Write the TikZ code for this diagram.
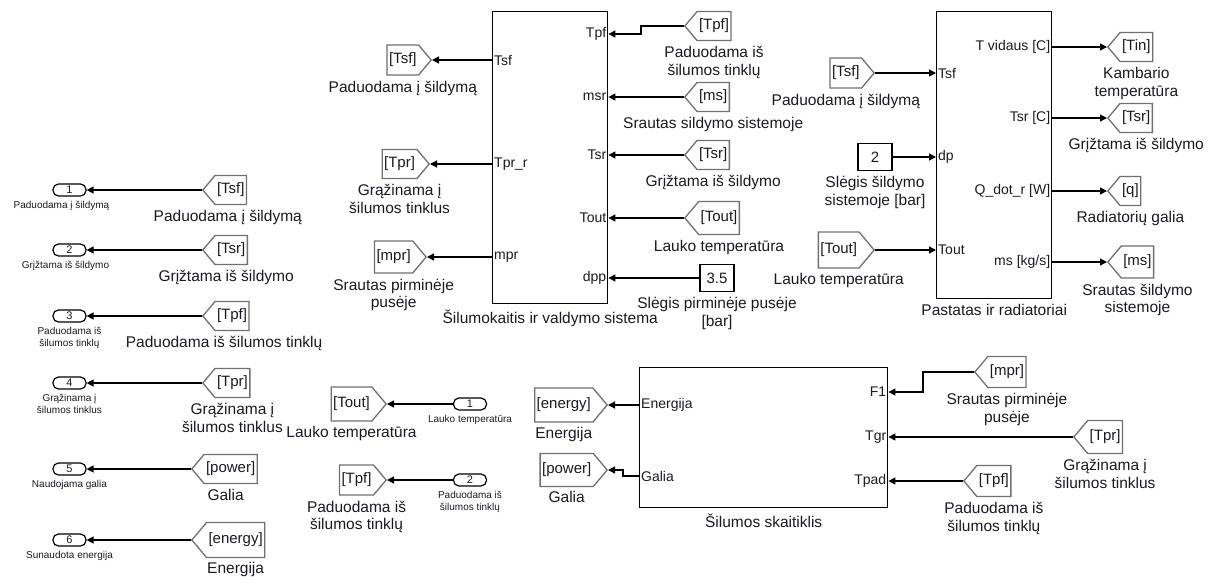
\documentclass[tikz,border=0pt]{standalone}
\usepackage{fontspec}
\setmainfont{Liberation Sans}
\usetikzlibrary{arrows.meta, positioning, shapes.symbols}
\definecolor{ink}{HTML}{1A1A24}
\definecolor{tagc}{HTML}{707070}

\begin{document}
\begin{tikzpicture}[x=1pt, y=-1pt,
    every node/.style={text=ink},
    lbl/.style={font=\fontsize{15.5}{17.5}\selectfont, align=center, inner sep=1pt},
    small/.style={font=\fontsize{10}{12}\selectfont, align=center, inner sep=1pt},
    subsys/.style={draw=black, line width=1.4pt, anchor=north west},
    portw/.style={font=\fontsize{14}{16}\selectfont, anchor=west, inner sep=2pt},
    porte/.style={font=\fontsize{14}{16}\selectfont, anchor=east, inner sep=2pt},
    tagw/.style={shape=signal, signal to=west, signal pointer angle=100, draw=tagc,
        line width=1.3pt, font=\fontsize{15}{17}\selectfont, minimum height=29pt,
        inner xsep=2pt, anchor=west},
    tage/.style={shape=signal, signal to=east, signal pointer angle=100, draw=tagc,
        line width=1.3pt, font=\fontsize{15}{17}\selectfont, minimum height=29pt,
        inner xsep=2pt, anchor=east},
    constbox/.style={draw=black, line width=1.3pt, minimum width=34pt, minimum height=27pt,
        font=\fontsize{15}{17}\selectfont},
    ioport/.style={draw=black, line width=1.2pt, rounded corners=5.5pt, minimum width=33pt,
        minimum height=12pt, inner sep=0pt, font=\fontsize{11}{12}\selectfont},
    sig/.style={-{Triangle[length=7pt, width=7pt]}, line width=1.3pt, black}
]

% ---------------- canvas, white ----------------
\fill[white] (0,0) rectangle (1214,582);
\useasboundingbox (0,0) rectangle (1214,582);

% ================= left column: outports fed by tags =================
\node[ioport] (o1) at (69.5,190) {1};
\node[small, below=3pt of o1, xshift=-8pt] {Paduodama į šildymą};
\node[tagw] (f1) at (202,190) {[Tsf]};
\node[lbl, below=4pt of f1, xshift=-3pt] {Paduodama į šildymą};
\draw[sig] (f1.west) -- (o1.east);

\node[ioport] (o2) at (69.5,250) {2};
\node[small, below=3pt of o2, xshift=-4pt] {Grįžtama iš šildymo};
\node[tagw] (f2) at (202,250) {[Tsr]};
\node[lbl, below=4pt of f2, xshift=-5pt] {Grįžtama iš šildymo};
\draw[sig] (f2.west) -- (o2.east);

\node[ioport] (o3) at (69.5,316) {3};
\node[small, below=3pt of o3] {Paduodama iš\\šilumos tinklų};
\node[tagw] (f3) at (202,316) {[Tpf]};
\node[lbl, below=4pt of f3, xshift=-8pt] {Paduodama iš šilumos tinklų};
\draw[sig] (f3.west) -- (o3.east);

\node[ioport] (o4) at (69.5,383) {4};
\node[small, below=3pt of o4] {Grąžinama į\\šilumos tinklus};
\node[tagw] (f4) at (202,383) {[Tpr]};
\node[lbl, below=4pt of f4] {Grąžinama į\\šilumos tinklus};
\draw[sig] (f4.west) -- (o4.east);

\node[ioport] (o5) at (69.5,469) {5};
\node[small, below=3pt of o5] {Naudojama galia};
\node[tagw] (f5) at (191,469) {[power]};
\node[lbl, below=4pt of f5, xshift=-5pt] {Galia};
\draw[sig] (f5.west) -- (o5.east);

\node[ioport] (o6) at (69.5,540) {6};
\node[small, below=3pt of o6] {Sunaudota energija};
\node[tagw, minimum height=35pt] (f6) at (191,540) {[energy]};
\node[lbl, below=3pt of f6] {Energija};
\draw[sig] (f6.west) -- (o6.east);

% ================= heat exchanger and control =================
\node[subsys, minimum width=115pt, minimum height=292pt] (hx) at (492,11) {};
\node[lbl, below=4pt of hx] {Šilumokaitis ir valdymo sistema};

\node[portw] (hxTsf) at (hx.west |- 0,60) {Tsf};
\node[portw] (hxTpr) at (hx.west |- 0,164) {Tpr\_r};
\node[portw] (hxMpr) at (hx.west |- 0,257) {mpr};
\node[porte] (hxTpf) at (hx.east |- 0,34) {Tpf};
\node[porte] (hxMsr) at (hx.east |- 0,97) {msr};
\node[porte] (hxTsr) at (hx.east |- 0,155) {Tsr};
\node[porte] (hxTout) at (hx.east |- 0,218) {Tout};
\node[porte] (hxDpp) at (hx.east |- 0,278) {dpp};

% outputs to goto tags
\node[tage, minimum height=30pt] (gTsf) at (432,60) {[Tsf]};
\node[lbl, below=4pt of gTsf] {Paduodama į šildymą};
\node[tage] (gTpr) at (430,164) {[Tpr]};
\node[lbl, below=4pt of gTpr] {Grąžinama į\\šilumos tinklus};
\node[tage, minimum height=32pt] (gMpr) at (427,257) {[mpr]};
\node[lbl, below=4pt of gMpr] {Srautas pirminėje\\pusėje};
\draw[sig] (hxTsf.west) -- (gTsf.east);
\draw[sig] (hxTpr.west) -- (gTpr.east);
\draw[sig] (hxMpr.west) -- (gMpr.east);

% inputs from tags
\node[tagw] (fTpf) at (684,26) {[Tpf]};
\node[lbl, below=4pt of fTpf] {Paduodama iš\\šilumos tinklų};
\node[tagw] (fMs) at (684,97) {[ms]};
\node[lbl, below=4pt of fMs] {Srautas sildymo sistemoje};
\node[tagw] (fTsr) at (684,155) {[Tsr]};
\node[lbl, below=4pt of fTsr] {Grįžtama iš šildymo};
\node[tagw, minimum height=33pt] (fTout) at (684,218) {[Tout]};
\node[lbl, below=4pt of fTout] {Lauko temperatūra};
\node[constbox] (cDpp) at (717,278) {3.5};
\node[lbl, below=4pt of cDpp] {Slėgis pirminėje pusėje\\{[bar]}};
\draw[sig] (fTpf.west) -- ++(-43,0) |- (hxTpf.east);
\draw[sig] (fMs.west) -- (hxMsr.east);
\draw[sig] (fTsr.west) -- (hxTsr.east);
\draw[sig] (fTout.west) -- (hxTout.east);
\draw[sig] (cDpp.west) -- (hxDpp.east);

% ================= building and radiators =================
\node[subsys, minimum width=115pt, minimum height=287pt] (bld) at (936,11) {};
\node[lbl, below=4pt of bld] {Pastatas ir radiatoriai};

\node[portw] (bTsf) at (bld.west |- 0,73) {Tsf};
\node[portw] (bDp) at (bld.west |- 0,157) {dp};
\node[portw] (bTout) at (bld.west |- 0,250) {Tout};
\node[porte] (bTin) at (bld.east |- 0,47) {T vidaus [C]};
\node[porte] (bTsr) at (bld.east |- 0,118) {Tsr [C]};
\node[porte] (bQ) at (bld.east |- 0,191) {Q\_dot\_r [W]};
\node[porte] (bMs) at (bld.east |- 0,262) {ms [kg/s]};

\node[tage, minimum height=30pt] (rTsf) at (875,73) {[Tsf]};
\node[lbl, below=4pt of rTsf] {Paduodama į šildymą};
\node[constbox] (cDp) at (875,157) {2};
\node[lbl, below=4pt of cDp] {Slėgis šildymo\\sistemoje [bar]};
\node[tage, minimum height=36pt] (rTout) at (875,250) {[Tout]};
\node[lbl, below=3pt of rTout] {Lauko temperatūra};
\draw[sig] (rTsf.east) -- (bTsf.west);
\draw[sig] (cDp.east) -- (bDp.west);
\draw[sig] (rTout.east) -- (bTout.west);

\node[tagw] (gTin) at (1107,47) {[Tin]};
\node[lbl, below=4pt of gTin] {Kambario\\temperatūra};
\node[tagw] (gTsr) at (1107,118) {[Tsr]};
\node[lbl, below=4pt of gTsr] {Grįžtama iš šildymo};
\node[tagw] (gQ) at (1107,191) {[q]};
\node[lbl, below=4pt of gQ] {Radiatorių galia};
\node[tagw, minimum height=32pt] (gMs) at (1107,262) {[ms]};
\node[lbl, below=4pt of gMs] {Srautas šildymo\\sistemoje};
\draw[sig] (bTin.east) -- (gTin.west);
\draw[sig] (bTsr.east) -- (gTsr.west);
\draw[sig] (bQ.east) -- (gQ.west);
\draw[sig] (bMs.east) -- (gMs.west);

% ================= inports to goto tags =================
\node[ioport] (i1) at (470,404) {1};
\node[small, below=3pt of i1] {Lauko temperatūra};
\node[tage, minimum height=34pt] (iTout) at (387,404) {[Tout]};
\node[lbl, below=3pt of iTout] {Lauko temperatūra};
\draw[sig] (i1.west) -- (iTout.east);

\node[ioport] (i2) at (470,480) {2};
\node[small, below=3pt of i2] {Paduodama iš\\šilumos tinklų};
\node[tage, minimum height=30pt] (iTpf) at (387,480) {[Tpf]};
\node[lbl, below=4pt of iTpf] {Paduodama iš\\šilumos tinklų};
\draw[sig] (i2.west) -- (iTpf.east);

% ================= heat meter =================
\node[subsys, minimum width=248pt, minimum height=140pt] (hm) at (639,367) {};
\node[lbl, below=4pt of hm] {Šilumos skaitiklis};

\node[portw] (mE) at (hm.west |- 0,405) {Energija};
\node[portw] (mG) at (hm.west |- 0,476) {Galia};
\node[porte] (mF1) at (hm.east |- 0,392) {F1};
\node[porte] (mTgr) at (hm.east |- 0,437) {Tgr};
\node[porte] (mTpad) at (hm.east |- 0,481) {Tpad};

\node[tage, minimum height=34pt] (mEn) at (608,405) {[energy]};
\node[lbl, below=3pt of mEn] {Energija};
\node[tage, minimum height=33pt] (mPow) at (608,470) {[power]};
\node[lbl, below=3pt of mPow] {Galia};
\draw[sig] (mE.west) -- (mEn.east);
\draw[sig] (mG.west) -- ++(-16,0) |- (mPow.east);

\node[tagw, minimum height=31pt] (mMpr) at (974,372) {[mpr]};
\node[lbl, below=4pt of mMpr] {Srautas pirminėje\\pusėje};
\node[tagw, minimum height=33pt] (mTpr) at (1073,437) {[Tpr]};
\node[lbl, below=4pt of mTpr] {Grąžinama į\\šilumos tinklus};
\node[tagw, minimum height=31pt] (mTpf) at (963,481) {[Tpf]};
\node[lbl, below=4pt of mTpf] {Paduodama iš\\šilumos tinklų};
\draw[sig] (mMpr.west) -- ++(-51,0) |- (mF1.east);
\draw[sig] (mTpr.west) -- (mTgr.east);
\draw[sig] (mTpf.west) -- (mTpad.east);

\end{tikzpicture}
\end{document}
